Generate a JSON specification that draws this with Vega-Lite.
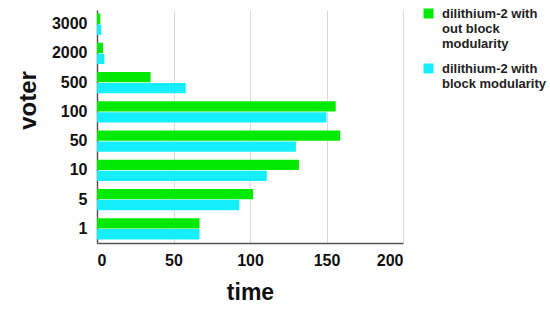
{
  "$schema": "https://vega.github.io/schema/vega-lite/v6.json",
  "width": 306,
  "height": 233,
  "autosize": "none",
  "padding": {"left": 97, "top": 10, "right": 147, "bottom": 80},
  "background": "white",
  "data": {
    "values": [
      {"voter": "3000", "series": "dilithium-2 with out block modularity", "time": 2.2},
      {"voter": "3000", "series": "dilithium-2 with block modularity", "time": 2.8},
      {"voter": "2000", "series": "dilithium-2 with out block modularity", "time": 3.9},
      {"voter": "2000", "series": "dilithium-2 with block modularity", "time": 4.8},
      {"voter": "500", "series": "dilithium-2 with out block modularity", "time": 35},
      {"voter": "500", "series": "dilithium-2 with block modularity", "time": 58},
      {"voter": "100", "series": "dilithium-2 with out block modularity", "time": 156},
      {"voter": "100", "series": "dilithium-2 with block modularity", "time": 150},
      {"voter": "50", "series": "dilithium-2 with out block modularity", "time": 159},
      {"voter": "50", "series": "dilithium-2 with block modularity", "time": 130},
      {"voter": "10", "series": "dilithium-2 with out block modularity", "time": 132},
      {"voter": "10", "series": "dilithium-2 with block modularity", "time": 111},
      {"voter": "5", "series": "dilithium-2 with out block modularity", "time": 102},
      {"voter": "5", "series": "dilithium-2 with block modularity", "time": 93},
      {"voter": "1", "series": "dilithium-2 with out block modularity", "time": 67},
      {"voter": "1", "series": "dilithium-2 with block modularity", "time": 67}
    ]
  },
  "mark": {"type": "bar", "strokeWidth": 0},
  "encoding": {
    "y": {
      "field": "voter",
      "type": "nominal",
      "sort": ["3000", "2000", "500", "100", "50", "10", "5", "1"],
      "scale": {"paddingInner": 0.27, "paddingOuter": 0.12},
      "axis": {
        "title": "voter",
        "titleFont": "Liberation Sans",
        "titleFontSize": 24,
        "titleFontWeight": "bold",
        "titleColor": "#111",
        "titleAngle": -90,
        "titleX": -69,
        "titleY": 90,
        "titleAlign": "center",
        "titleBaseline": "middle",
        "labelFont": "Liberation Sans",
        "labelFontSize": 16,
        "labelFontWeight": "bold",
        "labelColor": "#111",
        "labelPadding": 10,
        "ticks": false,
        "domainColor": "#555",
        "domainWidth": 1.5,
        "grid": false
      }
    },
    "x": {
      "field": "time",
      "type": "quantitative",
      "scale": {"domain": [0, 200], "nice": false},
      "axis": {
        "title": "time",
        "values": [0, 50, 100, 150, 200],
        "titleFont": "Liberation Sans",
        "titleFontSize": 23,
        "titleFontWeight": "bold",
        "titleColor": "#111",
        "titleY": 49,
        "titleBaseline": "middle",
        "labelFont": "Liberation Sans",
        "labelFontSize": 16,
        "labelFontWeight": "bold",
        "labelColor": "#111",
        "labelPadding": 9,
        "ticks": false,
        "domainColor": "#555",
        "domainWidth": 1.5,
        "grid": true,
        "gridColor": "#d9d9d9",
        "gridWidth": 1
      }
    },
    "yOffset": {
      "field": "series",
      "type": "nominal",
      "sort": ["dilithium-2 with out block modularity", "dilithium-2 with block modularity"],
      "scale": {"paddingInner": 0.05}
    },
    "color": {
      "field": "series",
      "type": "nominal",
      "sort": ["dilithium-2 with out block modularity", "dilithium-2 with block modularity"],
      "scale": {
        "domain": ["dilithium-2 with out block modularity", "dilithium-2 with block modularity"],
        "range": ["#00ea00", "#15eefc"]
      },
      "legend": {
        "title": null,
        "orient": "none",
        "legendX": 325,
        "legendY": -3,
        "symbolType": "square",
        "symbolSize": 100,
        "symbolStrokeWidth": 0,
        "labelFont": "Liberation Sans",
        "labelFontSize": 13,
        "labelFontWeight": "bold",
        "labelColor": "#222",
        "labelLimit": 200,
        "labelOffset": 7,
        "labelLineHeight": 16,
        "rowPadding": 11,
        "labelExpr": "datum.label == 'dilithium-2 with out block modularity' ? ['dilithium-2 with', 'out block', 'modularity'] : ['dilithium-2 with', 'block modularity']"
      }
    }
  },
  "config": {"view": {"stroke": null}}
}
